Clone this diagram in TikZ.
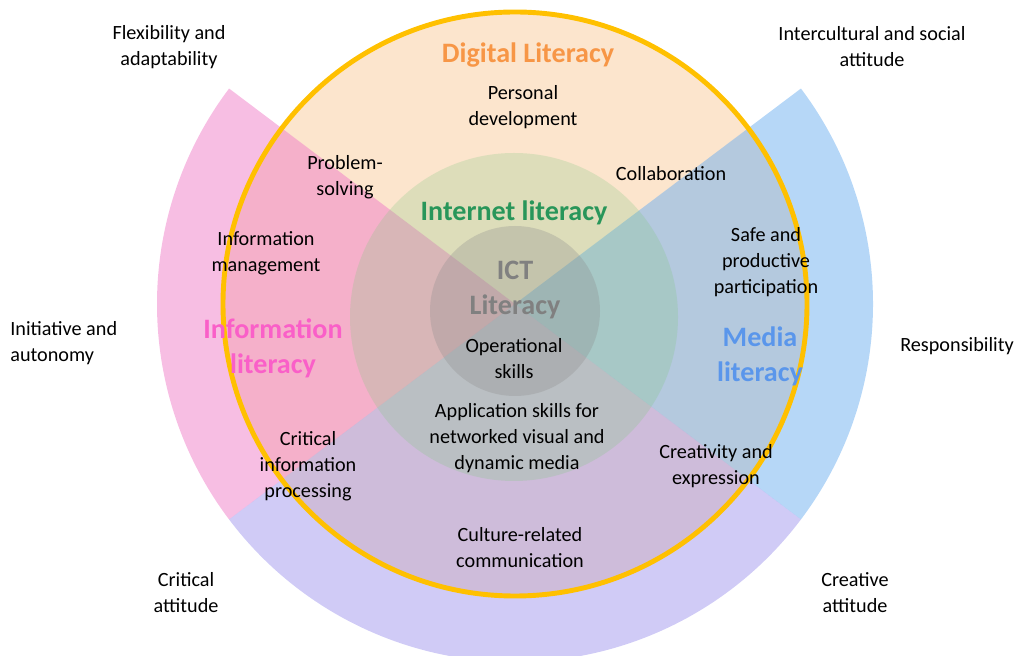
\documentclass[tikz,border=0pt]{standalone}
\usepackage{fontspec}
\setmainfont{Carlito}
\definecolor{peach1}{RGB}{252,229,205}
\definecolor{pink1}{RGB}{240,125,200}
\definecolor{blue1}{RGB}{110,175,240}
\definecolor{lilac1}{RGB}{150,140,235}
\definecolor{green1}{RGB}{130,200,130}
\definecolor{grey1}{RGB}{140,140,140}
\definecolor{gold1}{RGB}{255,192,0}
\definecolor{orange1}{RGB}{247,150,70}
\definecolor{pinktext}{RGB}{250,95,200}
\definecolor{bluetext}{RGB}{90,150,235}
\definecolor{greentext}{RGB}{40,150,90}
\definecolor{greytext}{RGB}{128,128,128}
\usepackage{tikz}
\usetikzlibrary{positioning}

\begin{document}
\begin{tikzpicture}[x=0.02cm, y=0.02cm,
  lbl/.style={align=center, font=\fontsize{11.5}{14.8}\selectfont, inner sep=0pt},
  head/.style={align=center, font=\fontsize{16}{19.9}\selectfont\bfseries, inner sep=0pt}]
  \useasboundingbox (0,0) rectangle (1016,655);
  \coordinate (c) at (515,351);

  % digital literacy disc and the four areas
  \fill[peach1] (c) circle[radius=292];
  \fill[pink1, fill opacity=0.5] (c) -- ++(143:358) arc[start angle=143, end angle=217, radius=358] -- cycle;
  \fill[blue1, fill opacity=0.5] (c) -- ++(-37:358) arc[start angle=-37, end angle=37, radius=358] -- cycle;
  \fill[lilac1, fill opacity=0.45] (c) -- ++(217:358) arc[start angle=217, end angle=323, radius=358] -- cycle;

  % internet and ICT literacy
  \fill[green1, fill opacity=0.25] (514,338) circle[radius=164];
  \fill[grey1, fill opacity=0.3] (515,344) circle[radius=85];
  \draw[gold1, line width=2.8pt] (c) circle[radius=292];

  % headings
  \node[head, text=orange1] (digital) at (528,600) {Digital Literacy};
  \node[head, text=greentext] (internet) at (514,442) {Internet literacy};
  \node[head, text=greytext] (ict) at (515,365) {ICT\\Literacy};
  \node[head, text=pinktext] (information) at (273,307) {Information\\literacy};
  \node[head, text=bluetext] (media) at (760,299) {Media\\literacy};

  % skills
  \node[lbl] (personal) at (523,548) {Personal\\development};
  \node[lbl] (problem) at (345,478) {Problem-\\solving};
  \node[lbl] (collab) at (671,481) {Collaboration};
  \node[lbl] (infomgmt) at (266,402) {Information\\management};
  \node[lbl] (safe) at (766,393) {Safe and\\productive\\participation};
  \node[lbl] (operational) at (514,296) {Operational\\skills};
  \node[lbl] (application) at (517,217) {Application skills for\\networked visual and\\dynamic media};
  \node[lbl] (critinfo) at (308,189) {Critical\\information\\processing};
  \node[lbl] (creativity) at (716,189) {Creativity and\\expression};
  \node[lbl] (culture) at (520,107) {Culture-related\\communication};

  % attitudes
  \node[lbl] (flex) at (169,608) {Flexibility and\\adaptability};
  \node[lbl] (intercult) at (872,608) {Intercultural and social\\attitude};
  \node[lbl, align=left, anchor=west] (initiative) at (10,312) {Initiative and\\autonomy};
  \node[lbl] (respons) at (957,309) {Responsibility};
  \node[lbl] (critatt) at (186,62) {Critical\\attitude};
  \node[lbl] (creatatt) at (855,62) {Creative\\attitude};
\end{tikzpicture}
\end{document}
